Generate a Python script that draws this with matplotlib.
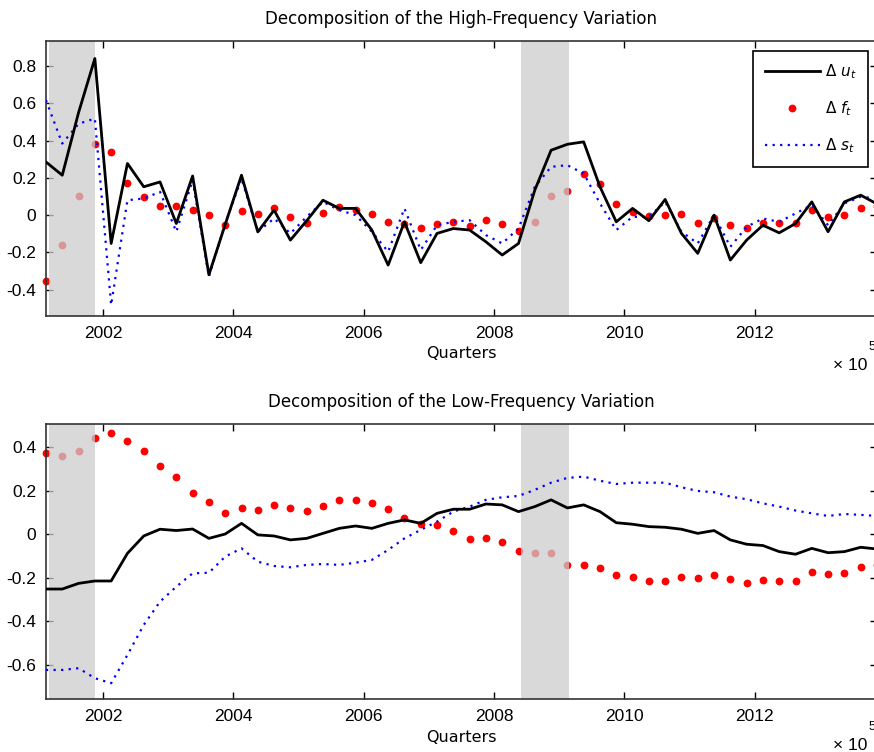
import numpy as np
import matplotlib
matplotlib.use('Agg')
import matplotlib.pyplot as plt
from matplotlib.ticker import FuncFormatter

plt.rcParams['axes.unicode_minus'] = False
plt.rcParams['mathtext.fontset'] = 'dejavusans'

# Quarterly dates (mid-quarter), 2001Q1 .. 2013Q4
quarters = np.arange(2001.125, 2014.0, 0.25)

# High-frequency components
hf_u = [0.285, 0.214, 0.55, 0.84, -0.152, 0.277, 0.152, 0.178, -0.045, 0.21,
        -0.32, -0.05, 0.214, -0.09, 0.027, -0.134, -0.03, 0.08, 0.036, 0.036,
        -0.08, -0.268, -0.036, -0.255, -0.098, -0.072, -0.08, -0.143, -0.214, -0.152,
        0.134, 0.348, 0.38, 0.393, 0.152, -0.036, 0.036, -0.03, 0.084, -0.098,
        -0.205, 0.0, -0.241, -0.134, -0.054, -0.095, -0.045, 0.071, -0.089, 0.071,
        0.107, 0.06]
hf_f = [-0.352, -0.161, 0.102, 0.384, 0.339, 0.17, 0.095, 0.048, 0.048, 0.027,
        0.0, -0.054, 0.023, 0.004, 0.036, -0.01, -0.041, 0.012, 0.041, 0.027,
        0.005, -0.036, -0.05, -0.071, -0.048, -0.039, -0.059, -0.027, -0.05, -0.086,
        -0.036, 0.102, 0.128, 0.223, 0.166, 0.059, 0.018, -0.005, 0.0, 0.005,
        -0.041, -0.018, -0.054, -0.071, -0.041, -0.041, -0.041, 0.027, -0.009, 0.0,
        0.039, 0.05]
hf_s = [0.616, 0.384, 0.49, 0.518, -0.482, 0.08, 0.089, 0.125, -0.089, 0.187,
        -0.33, -0.045, 0.196, -0.089, -0.018, -0.098, -0.009, 0.071, 0.027, 0.0,
        -0.089, -0.196, 0.036, -0.187, -0.054, -0.036, -0.027, -0.107, -0.152, -0.071,
        0.152, 0.259, 0.268, 0.223, 0.063, -0.08, -0.009, -0.009, 0.071, -0.089,
        -0.152, 0.0, -0.17, -0.063, -0.018, -0.036, 0.009, 0.054, -0.054, 0.063,
        0.098, 0.09]

# Low-frequency components
lf_u = [-0.251, -0.251, -0.225, -0.214, -0.214, -0.087, -0.007, 0.024, 0.018, 0.025,
        -0.018, 0.002, 0.051, -0.002, -0.007, -0.025, -0.018, 0.005, 0.028, 0.039,
        0.028, 0.051, 0.067, 0.051, 0.097, 0.116, 0.116, 0.14, 0.136, 0.105,
        0.128, 0.159, 0.122, 0.136, 0.105, 0.054, 0.047, 0.036, 0.033, 0.024,
        0.005, 0.018, -0.025, -0.045, -0.051, -0.079, -0.091, -0.064, -0.084, -0.079,
        -0.059, -0.067]
lf_f = [0.373, 0.362, 0.385, 0.442, 0.468, 0.431, 0.385, 0.315, 0.266, 0.192,
        0.148, 0.1, 0.12, 0.113, 0.136, 0.123, 0.108, 0.132, 0.159, 0.159,
        0.143, 0.117, 0.074, 0.047, 0.044, 0.018, -0.022, -0.015, -0.036, -0.076,
        -0.084, -0.084, -0.14, -0.14, -0.156, -0.186, -0.197, -0.212, -0.212, -0.197,
        -0.202, -0.186, -0.206, -0.221, -0.209, -0.212, -0.212, -0.171, -0.182, -0.175,
        -0.151, -0.14]
lf_s = [-0.623, -0.623, -0.615, -0.661, -0.684, -0.554, -0.416, -0.309, -0.24, -0.179,
        -0.176, -0.102, -0.064, -0.125, -0.145, -0.151, -0.14, -0.136, -0.14, -0.13,
        -0.117, -0.071, -0.018, 0.021, 0.059, 0.105, 0.128, 0.159, 0.171, 0.177,
        0.205, 0.238, 0.26, 0.266, 0.247, 0.232, 0.238, 0.238, 0.238, 0.217,
        0.2, 0.194, 0.174, 0.162, 0.143, 0.128, 0.11, 0.097, 0.085, 0.094,
        0.09, 0.085]

# Recession bands
recessions = [(2001.17, 2001.87), (2008.41, 2009.15)]

year_ticks = [2002, 2004, 2006, 2008, 2010, 2012]

fig = plt.figure(figsize=(8.74, 7.52), dpi=100)
ax1 = fig.add_axes([0.0526, 0.5798, 0.9508, 0.3657])
ax2 = fig.add_axes([0.0526, 0.0701, 0.9508, 0.3661])


def fmt(v, pos):
    return '%g' % round(v, 2)


def draw_panel(ax, u, f, s, title, ylim, yticks):
    for a, b in recessions:
        ax.axvspan(a, b, color=(0.8, 0.8, 0.8), alpha=0.74, lw=0, zorder=2)
    lu, = ax.plot(quarters, u, color='black', lw=2, zorder=4)
    lf, = ax.plot(quarters, f, ls='none', marker='o', ms=4.6, color='red',
                  mec='red', zorder=1, clip_on=False)
    ls, = ax.plot(quarters, s, color='blue', lw=1.6, ls=(0, (1, 2.4)), zorder=3)
    ax.set_xlim(2001.125, 2013.875)
    ax.set_ylim(*ylim)
    ax.set_xticks(year_ticks)
    ax.set_yticks(yticks)
    ax.yaxis.set_major_formatter(FuncFormatter(fmt))
    ax.tick_params(direction='in', top=True, right=True, length=5, width=1,
                   labelsize=12.5, pad=7, labelfontfamily='Liberation Sans')
    for sp in ax.spines.values():
        sp.set_linewidth(1.2)
        sp.set_color('#333333')
    ax.set_title(title, fontsize=12, family='DejaVu Sans', pad=12)
    ax.set_xlabel('Quarters', fontsize=11.5, family='DejaVu Sans', labelpad=4)
    return lu, lf, ls


lu, lf, ls = draw_panel(ax1, hf_u, hf_f, hf_s,
                        'Decomposition of the High-Frequency Variation',
                        (-0.541, 0.934), [-0.4, -0.2, 0, 0.2, 0.4, 0.6, 0.8])
draw_panel(ax2, lf_u, lf_f, lf_s,
           'Decomposition of the Low-Frequency Variation',
           (-0.758, 0.508), [-0.6, -0.4, -0.2, 0, 0.2, 0.4])

leg = ax1.legend([lu, lf, ls],
                 [r'$\Delta\ u_t$', r'$\Delta\ f_t$', r'$\Delta\ s_t$'],
                 loc='upper right', bbox_to_anchor=(0.9894, 0.9636),
                 borderaxespad=0, fancybox=False, edgecolor='black',
                 framealpha=1, fontsize=11, handlelength=3.6,
                 labelspacing=1.2, borderpad=0.75, handletextpad=0.35,
                 numpoints=1)
leg.get_frame().set_linewidth(1.2)

# MATLAB-style exponent label for the datenum axis
for yb, ys in [(0.5133, 0.5386), (0.0093, 0.0326)]:
    fig.text(0.953, yb, '\u00d7 10', fontsize=12.5, family='Liberation Sans',
             va='center', ha='left')
    fig.text(0.9935, ys, '5', fontsize=9, family='Liberation Sans',
             va='center', ha='left')

fig.savefig('out.png', dpi=100)
